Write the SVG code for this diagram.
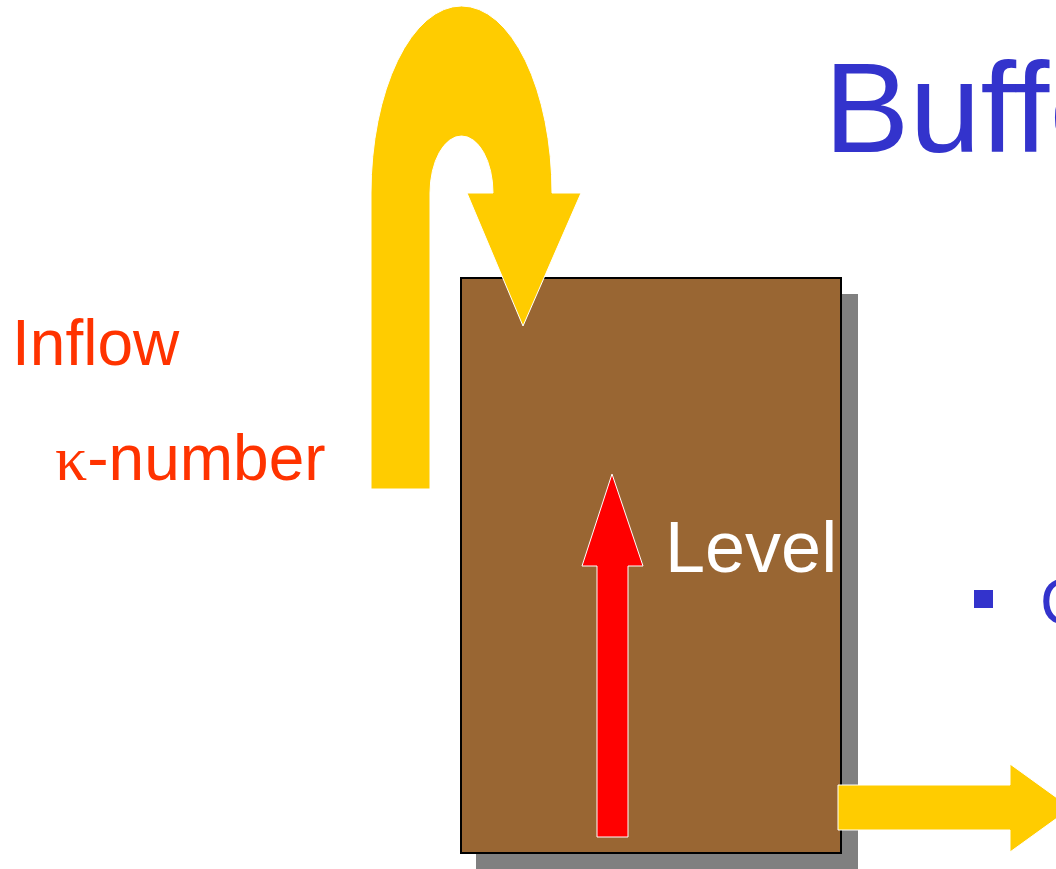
<svg xmlns="http://www.w3.org/2000/svg" width="1056" height="869" viewBox="0 0 1056 869">
<style>
.flow{fill:#FFCC00;stroke:#FFFFFF;stroke-width:1}
.lbl{font-family:"Liberation Sans",Arial,sans-serif}
.red{fill:#FF3300}
</style>
<rect width="1056" height="869" fill="#FFFFFF"/>
<g id="title">
<text class="lbl" x="824" y="152" font-size="128" fill="#3333CC">Buffe</text>
</g>
<g id="bullet">
<rect x="974" y="590" width="19" height="18" fill="#3333CC"/>
<text class="lbl" x="1040" y="624" font-size="64" fill="#3333CC">C</text>
</g>
<g id="tank">
<rect x="476" y="294" width="382" height="576" fill="#808080"/>
<rect x="461" y="278" width="380" height="575" fill="#996633" stroke="#000000" stroke-width="2"/>
</g>
<g id="connectors">
<path id="inflow-arrow" class="flow" d="M371,489 V193 A90,186 0 0 1 552,193 H581 L523,326 L467,193 H493 A31.5,57 0 0 0 430,193 V489 Z"/>
<path id="level-arrow" d="M597,837 V566 H582 L612,474 L643,566 H628 V837 Z" fill="#FF0000" stroke="#FFFFFF" stroke-width="1"/>
<path id="outflow-arrow" class="flow" d="M838,785 H1010 V764 L1071,808 L1010,852 V830 H838 Z"/>
</g>
<g id="level-label">
<text class="lbl" x="665" y="572" font-size="72" fill="#FFFFFF">Level</text>
</g>
<g id="inflow-label">
<text class="lbl red" x="12" y="365" font-size="64">Inflow</text>
<text class="red" x="55" y="480" font-size="64"><tspan font-family="'Liberation Serif','Times New Roman',serif">κ</tspan><tspan font-family="'Liberation Sans',Arial,sans-serif">-number</tspan></text>
</g>
</svg>
